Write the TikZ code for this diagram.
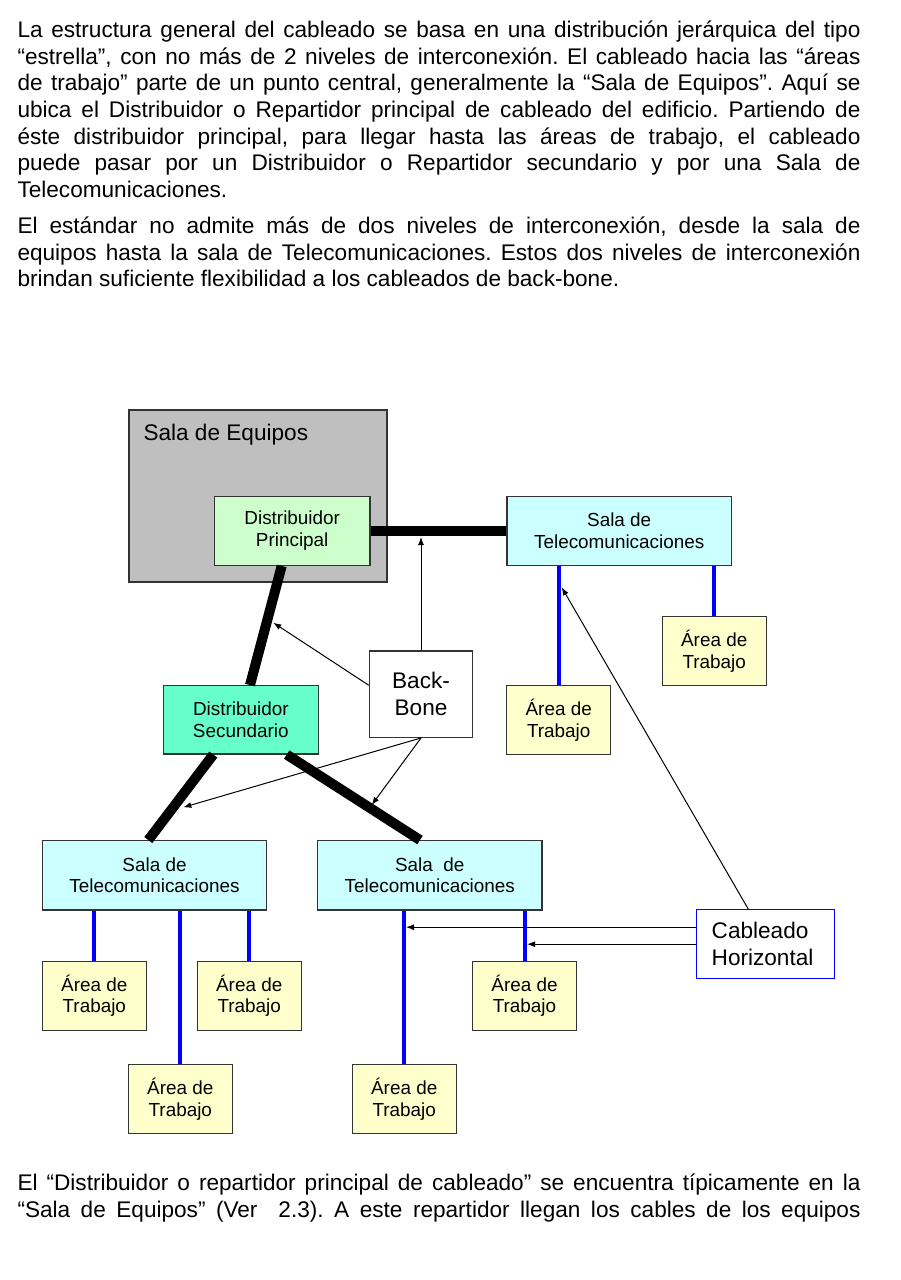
\documentclass[tikz,border=0pt]{standalone}
\usepackage{fontspec}
\setmainfont{Liberation Sans}
\usepackage{xcolor}
\usepackage{tikz}
\usetikzlibrary{arrows.meta}
\usetikzlibrary{calc}
\usetikzlibrary{positioning}
\definecolor{verdeclaro}{HTML}{CCFFCC}
\definecolor{aguamarina}{HTML}{66FFCC}
\definecolor{celeste}{HTML}{CCFFFF}
\definecolor{amarillo}{HTML}{FFFFCC}
\newcommand{\chica}{\fontsize{18.9}{21.7}\selectfont}
\newcommand{\grande}{\fontsize{22.6}{26.7}\selectfont}
\hyphenpenalty=10000
\exhyphenpenalty=10000
\tolerance=9999
\frenchspacing

\begin{document}
\begin{tikzpicture}[x=1pt,y=-1pt,
 caja/.style={draw=black!80,line width=1.2pt,minimum width=104pt,minimum height=69pt,inner sep=0pt,align=center,font=\chica},
 area/.style={caja,fill=amarillo},
 sala/.style={caja,fill=celeste,minimum width=224.5pt,minimum height=69.3pt},
 troncal/.style={line width=10pt},
 azul/.style={blue,line width=4pt},
 flecha/.style={line width=1pt,-{Latex[length=8pt,width=6pt]}},
 parrafo/.style={text width=843pt,align=justify,inner sep=0pt,anchor=base west,font=\grande\frenchspacing}]
 	\useasboundingbox (0,0) rectangle (901,1280);
 	\node[parrafo] (parrafouno) at (17.3,37.3) {La estructura general del cableado se basa en una distribución jerárquica del tipo\linebreak “estrella”, con no más de 2 niveles de interconexión. El cableado hacia las “áreas\linebreak de trabajo” parte de un punto central, generalmente la “Sala de Equipos”. Aquí se\linebreak ubica el Distribuidor o Repartidor principal de cableado del edificio. Partiendo de\linebreak éste distribuidor principal, para llegar hasta las áreas de trabajo, el cableado\linebreak puede pasar por un Distribuidor o Repartidor secundario y por una Sala de\linebreak Telecomunicaciones.};
 	\node[parrafo] (parrafodos) at (17.3,233.3) {El estándar no admite más de dos niveles de interconexión, desde la sala de\linebreak equipos hasta la sala de Telecomunicaciones. Estos dos niveles de interconexión\linebreak brindan suficiente flexibilidad a los cableados de back-bone.};
 	\node[parrafo] (parrafotres) at (17.3,1190.5) {El “Distribuidor o repartidor principal de cableado” se encuentra típicamente en la\linebreak “Sala de Equipos” (Ver\ \ 2.3). A este repartidor llegan los cables de los equipos\parfillskip=0pt\par};
 	\node[caja,fill=black!25,minimum width=258pt,minimum height=172pt] (equipos) at (258,496) {};
 	\node[anchor=base west,inner sep=0pt,font=\grande] (equiposlbl) at (143.3,440) {Sala de Equipos};
 	\node[caja,fill=verdeclaro,minimum width=155.5pt,minimum height=68.8pt] (principal) at (292.2,530.9) {Distribuidor\\Principal};
 	\node[sala] (salauno) at (619.2,530.9) {Sala de\\Telecomunicaciones};
 	\node[caja,fill=aguamarina,minimum width=155pt,minimum height=68.3pt] (secundario) at (240.8,719.8) {Distribuidor\\Secundario};
 	\node[caja,fill=white,minimum width=103.4pt,minimum height=86.3pt,font=\grande] (backbone) at (421,694.2) {Back-\\Bone};
 	\node[area] (areauno) at (714.2,651.2) {Área de\\Trabajo};
 	\node[area] (areados) at (558.7,720.2) {Área de\\Trabajo};
 	\node[sala] (salados) at (154.5,875.3) {Sala de\\Telecomunicaciones};
 	\node[sala] (salatres) at (429.8,875.3) {Sala\ \ de\\Telecomunicaciones};
 	\node[area] (areatres) at (94.3,995.7) {Área de\\Trabajo};
 	\node[area] (areacuatro) at (249.2,995.7) {Área de\\Trabajo};
 	\node[area] (areasiete) at (524.5,995.7) {Área de\\Trabajo};
 	\node[area] (areacinco) at (180.3,1099.2) {Área de\\Trabajo};
 	\node[area] (areaseis) at (404.2,1099.2) {Área de\\Trabajo};
 	\node[draw=blue,line width=1.2pt,fill=white,text width=108pt,align=left,inner xsep=15pt,inner ysep=0pt,minimum height=69pt,font=\grande] (cableado) at (765.7,944.2) {Cableado\\Horizontal};
 	\draw[troncal] (principal.east) -- (salauno.west);
 	\draw[troncal] ([xshift=-10.5pt]principal.south) -- ([xshift=9.2pt]secundario.north);
 	\draw[troncal] ([xshift=-27.5pt]secundario.south) -- ([xshift=-6.2pt]salados.north);
 	\draw[troncal] ([xshift=45.9pt]secundario.south) -- ([xshift=-9.8pt]salatres.north);
 	\draw[azul] (areauno.north) -- (areauno.north |- salauno.south);
 	\draw[azul] (areados.north) -- (areados.north |- salauno.south);
 	\draw[azul] (areatres.north) -- (areatres.north |- salados.south);
 	\draw[azul] (areacuatro.north) -- (areacuatro.north |- salados.south);
 	\draw[azul] (areacinco.north) -- (areacinco.north |- salados.south);
 	\draw[azul] (areaseis.north) -- (areaseis.north |- salatres.south);
 	\draw[azul] (areasiete.north) -- (areasiete.north |- salatres.south);
 	\coordinate (tipuno) at (421,537);
 	\coordinate (tipdos) at (273.3,622.7);
 	\coordinate (tiptres) at (183.3,807.3);
 	\coordinate (tipcuatro) at (371.7,805);
 	\coordinate (tipcinco) at (406,927.2);
 	\coordinate (tipseis) at (527,944.2);
 	\coordinate (tipsiete) at (561.7,587.3);
 	\draw[flecha] (backbone.north) -- (tipuno);
 	\draw[flecha] ([yshift=9pt]backbone.west) -- (tipdos);
 	\draw[flecha] (backbone.south) -- (tiptres);
 	\draw[flecha] (backbone.south) -- (tipcuatro);
 	\draw[flecha] ([yshift=17pt]cableado.west) -- (tipcinco);
 	\draw[flecha] (cableado.west) -- (tipseis);
 	\draw[flecha] ([xshift=-17.4pt]cableado.north) -- (tipsiete);
\end{tikzpicture}
\end{document}
